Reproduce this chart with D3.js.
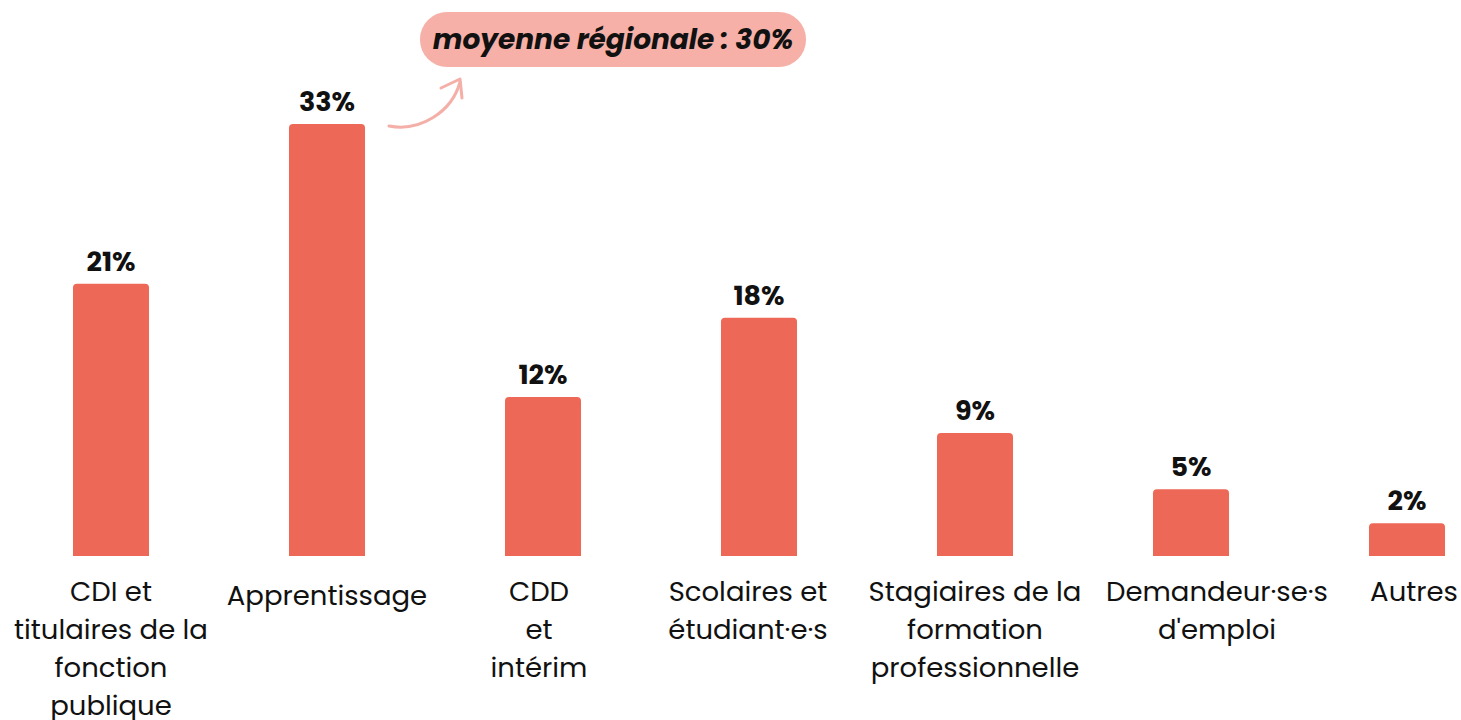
<!DOCTYPE html>
<html>
<head>
<meta charset="utf-8">
<script src="https://cdn.jsdelivr.net/npm/d3@7"></script>
<style>
  body { margin: 0; background: #fff; }
  svg { display: block; font-family: Poppins, Inter, sans-serif; }
</style>
</head>
<body>
<div id="chart"></div>
<script>
// data
var categories = [
  ["CDI et", "titulaires de la", "fonction", "publique"],
  ["Apprentissage"],
  ["CDD", "et", "intérim"],
  ["Scolaires et", "étudiant·e·s"],
  ["Stagiaires de la", "formation", "professionnelle"],
  ["Demandeur·se·s", "d'emploi"],
  ["Autres"]
];
// bar heights, labels as printed
var values = [20.8, 33, 12.15, 18.2, 9.4, 5.1, 2.5];
var valueLabels = ["21%", "33%", "12%", "18%", "9%", "5%", "2%"];
var annotation = "moyenne régionale : 30%";

var svgWidth = 1461, svgHeight = 720;
var baseline = 556;
// small horizontal nudges of the category labels so they don't collide
var labelShift = [0, 0, -4, -11, 0, 26, 7];

var svg = d3.select("#chart").append("svg")
  .attr("width", svgWidth)
  .attr("height", svgHeight);

var x = d3.scaleBand()
  .domain(d3.range(values.length))
  .range([3, 1515])
  .paddingInner(0.648)
  .paddingOuter(0.324);

var y = d3.scaleLinear()
  .domain([0, 33])
  .range([baseline, 124]);

function barPath(x0, y0, w, h, r) {
  r = Math.min(r, h);
  return "M" + x0 + "," + (y0 + h) +
    "V" + (y0 + r) +
    "Q" + x0 + "," + y0 + " " + (x0 + r) + "," + y0 +
    "H" + (x0 + w - r) +
    "Q" + (x0 + w) + "," + y0 + " " + (x0 + w) + "," + (y0 + r) +
    "V" + (y0 + h) + "Z";
}

// bars
svg.selectAll("path.bar")
  .data(values)
  .enter()
  .append("path")
  .attr("class", "bar")
  .attr("fill", "#ee6858")
  .attr("d", (d, i) => barPath(x(i), y(d), x.bandwidth(), baseline - y(d), 4));

// value labels
svg.selectAll("text.val")
  .data(values)
  .enter()
  .append("text")
  .attr("class", "val")
  .attr("x", (d, i) => x(i) + x.bandwidth() / 2)
  .attr("y", d => y(d) - 13)
  .attr("text-anchor", "middle")
  .attr("font-size", 27)
  .attr("font-weight", 700)
  .attr("fill", "#111")
  .text((d, i) => valueLabels[i]);

// category labels
var cx = i => x(i) + x.bandwidth() / 2 + labelShift[i];

var cat = svg.selectAll("text.cat")
  .data(categories)
  .enter()
  .append("text")
  .attr("class", "cat")
  .attr("x", (d, i) => cx(i))
  .attr("y", (d, i) => i === 1 ? 605 : 601)
  .attr("text-anchor", "middle")
  .attr("font-size", 27.5)
  .attr("fill", "#111");

cat.selectAll("tspan")
  .data((d, i) => d.map(t => ({t: t, i: i})))
  .enter()
  .append("tspan")
  .attr("x", d => cx(d.i))
  .attr("dy", (d, j) => j === 0 ? 0 : 38)
  .text(d => d.t);

// annotation
svg.append("rect")
  .attr("x", 420)
  .attr("y", 12)
  .attr("width", 386)
  .attr("height", 55)
  .attr("rx", 27)
  .attr("fill", "#f6b0a8");

svg.append("text")
  .attr("x", 613)
  .attr("y", 49)
  .attr("text-anchor", "middle")
  .attr("font-size", 28)
  .attr("font-weight", 700)
  .attr("font-style", "italic")
  .attr("fill", "#111")
  .text(annotation);

// arrow
svg.append("path")
  .attr("d", "M389,126 C420,132 452,112 460,82")
  .attr("fill", "none")
  .attr("stroke", "#f4b0a8")
  .attr("stroke-width", 3)
  .attr("stroke-linecap", "round");

svg.append("path")
  .attr("d", "M441,88 L460,79 L462,98")
  .attr("fill", "none")
  .attr("stroke", "#f4b0a8")
  .attr("stroke-width", 3)
  .attr("stroke-linecap", "round")
  .attr("stroke-linejoin", "round");
</script>
</body>
</html>
